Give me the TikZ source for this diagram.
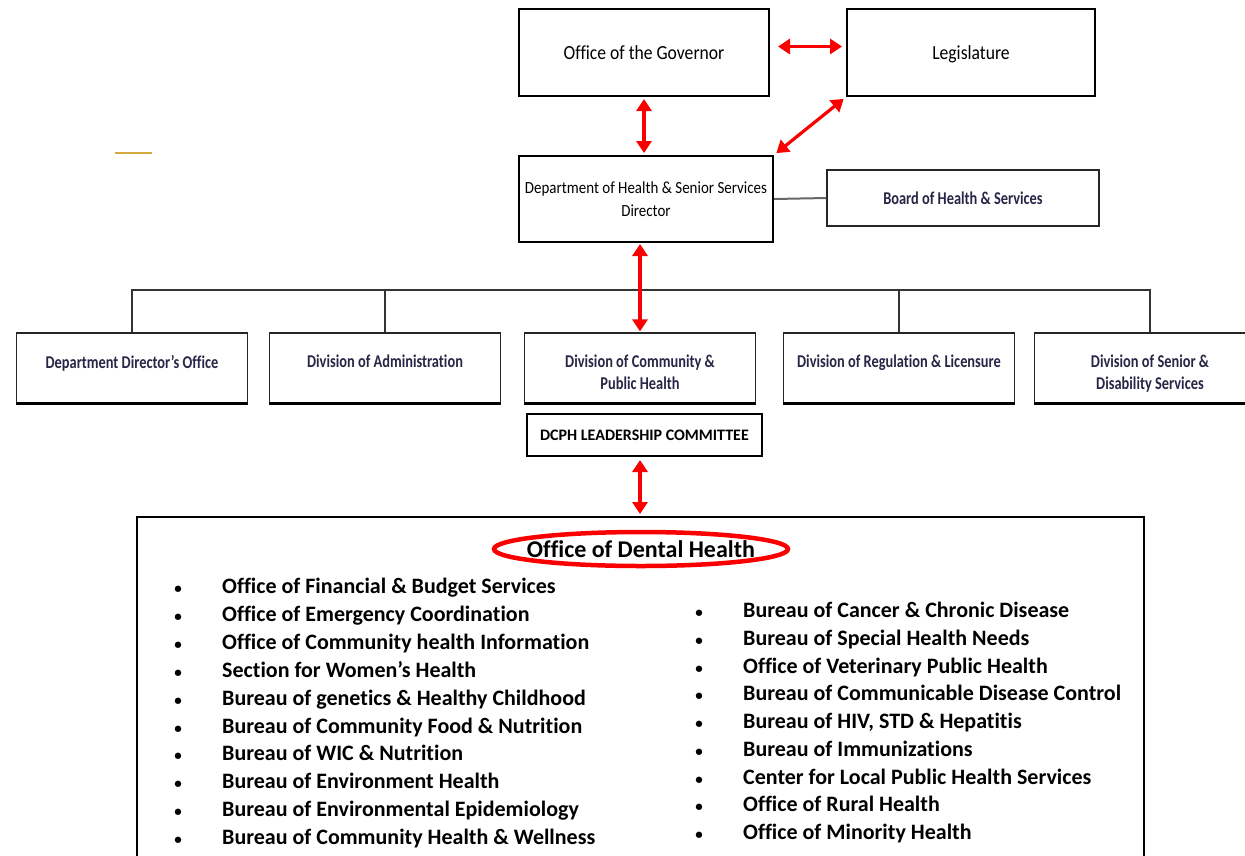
\documentclass[tikz,border=0pt]{standalone}
\usepackage{fontspec}
\usepackage{tikz}
\usetikzlibrary{arrows.meta,positioning}
\setmainfont{Carlito}[Ligatures=NoCommon]
\newfontfamily\condfont[FakeStretch=0.88,Ligatures=NoCommon]{Carlito}
\newfontfamily\narrowfont[FakeStretch=0.8,Ligatures=NoCommon]{Carlito}
\definecolor{navytext}{RGB}{38,38,70}
\definecolor{goldline}{RGB}{214,170,60}
\definecolor{arrowred}{RGB}{250,0,0}

\begin{document}
\begin{tikzpicture}[x=1pt,y=-1pt,
govbox/.style={draw,line width=2pt,minimum width=250pt,minimum height=87pt,align=center,font=\condfont\fontsize{20}{23}\selectfont},
boardbox/.style={draw=black!85,line width=1.5pt,minimum width=272pt,minimum height=56pt,text=navytext,font=\narrowfont\bfseries\fontsize{18}{22}\selectfont},
divbox/.style={draw=black!85,line width=1.2pt,minimum width=231pt,minimum height=70pt},
divtext/.style={align=center,text=navytext,font=\narrowfont\bfseries\fontsize{18}{22}\selectfont},
dcphbox/.style={draw,line width=2pt,minimum width=235pt,minimum height=42pt,font=\bfseries\fontsize{16}{18}\selectfont},
botline/.style={line width=3pt},
busline/.style={draw=black!80,line width=1.5pt},
redarrow/.style={draw=arrowred,line width=3.2pt,{Triangle[length=12pt,width=15pt]}-{Triangle[length=12pt,width=15pt]}},
listtext/.style={anchor=west,inner sep=0pt,text height=16pt,text depth=5pt,font=\bfseries\fontsize{22}{26}\selectfont},
bulletmark/.style={inner sep=0pt,text height=16pt,text depth=5pt,font=\bfseries\fontsize{15}{26}\selectfont}]
\useasboundingbox (0,0) rectangle (1245,855);
\clip (0,0) rectangle (1245,855);

\draw[goldline,line width=2.5pt] (115,153) -- (152,153);

\node[govbox] (gov) at (644,52.5) {Office of the Governor};
\node[govbox,minimum width=248pt] (leg) at (971,52.5) {\raisebox{0pt}[\height][0pt]{Legislature}};
\node[govbox,minimum width=254pt,minimum height=86pt,font=\condfont\fontsize{17}{23}\selectfont] (dept) at (646,199) {Department of Health \& Senior Services\\Director};
\node[boardbox] (board) at (963,198) {Board of Health \& Services};
\draw[draw=black!60,line width=2pt] (dept.east) -- (board.west);

\draw[redarrow,shorten <=8pt,shorten >=4pt] ([yshift=6pt]gov.east) -- ([yshift=6pt]gov.east -| leg.west);
\draw[redarrow,shorten <=2pt,shorten >=2pt] (gov.south) -- (gov.south |- dept.north);
\draw[redarrow,shorten <=3pt,shorten >=3pt] (leg.south west) -- (dept.north east);

\node[divbox] (d1) at (132,368) {};
\node[divtext,below=19pt of d1.north] (d1t) {Department Director’s Office};
\node[divbox] (d2) at (385,368) {};
\node[divtext,below=19pt of d2.north] (d2t) {Division of Administration};
\node[divbox] (d3) at (640,368) {};
\node[divtext,below=19pt of d3.north] (d3t) {Division of Community \&\\Public Health};
\node[divbox] (d4) at (899,368) {};
\node[divtext,below=19pt of d4.north] (d4t) {Division of Regulation \& Licensure};
\node[divbox] (d5) at (1150,368) {};
\node[divtext,below=19pt of d5.north] (d5t) {Division of Senior \&\\Disability Services};
\foreach \d in {d1,d2,d3,d4,d5}
  \draw[botline] (\d.south west) -- (\d.south east);

\coordinate (bus) at (129,290);
\draw[busline] (d1.north) |- (d5.north |- bus) -- (d5.north);
\draw[busline] (d2.north) -- (d2.north |- bus);
\draw[busline] (d4.north) -- (d4.north |- bus);
\draw[busline] (d3.north |- bus) -- ++(0,-2);
\draw[redarrow,shorten <=1pt,shorten >=1pt] (dept.south -| d3.north) -- (d3.north);

\node[dcphbox] (dcph) at (644.5,435) {DCPH LEADERSHIP COMMITTEE};
\coordinate (odhtop) at (640,517);
\draw[redarrow,shorten <=3pt,shorten >=3pt] (dcph.south -| odhtop) -- (odhtop);

\draw[line width=2pt] (137,870) |- (odhtop) -| (1144,870);
\node[font=\bfseries\fontsize{24}{28}\selectfont] (odh) at (641,549) {Office of Dental Health};
\draw[draw=arrowred,line width=4.5pt] (odh) ellipse [x radius=147pt,y radius=17pt];

\foreach \lefttxt [count=\i] in {Office of Financial \& Budget Services,Office of Emergency Coordination,Office of Community health Information,Section for Women’s Health,Bureau of genetics \& Healthy Childhood,Bureau of Community Food \& Nutrition,Bureau of WIC \& Nutrition,Bureau of Environment Health,Bureau of Environmental Epidemiology,Bureau of Community Health \& Wellness}{
  \node[bulletmark] (lb\i) at (178,{588+27.9*(\i-1)}) {\textbullet};
  \node[listtext] (l\i) at (222,{588+27.9*(\i-1)}) {\lefttxt};
}
\foreach \righttxt [count=\i] in {Bureau of Cancer \& Chronic Disease,Bureau of Special Health Needs,Office of Veterinary Public Health,Bureau of Communicable Disease Control,{Bureau of HIV, STD \& Hepatitis},Bureau of Immunizations,Center for Local Public Health Services,Office of Rural Health,Office of Minority Health}{
  \node[bulletmark] (rb\i) at (699,{612+27.75*(\i-1)}) {\textbullet};
  \node[listtext] (r\i) at (743,{612+27.75*(\i-1)}) {\righttxt};
}

\end{tikzpicture}
\end{document}
